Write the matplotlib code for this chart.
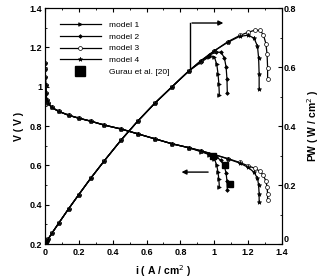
import numpy as np
import matplotlib
matplotlib.use("Agg")
import matplotlib.pyplot as plt
from matplotlib.ticker import MultipleLocator

plt.rcParams['font.family'] = ['Liberation Sans', 'DejaVu Sans']

# shared low-current part (all models overlap here)
i_common = [0, 0.001, 0.002, 0.004, 0.006, 0.01, 0.02, 0.04, 0.08, 0.14, 0.2,
            0.27, 0.35, 0.45, 0.55, 0.65, 0.75, 0.85]
v_common = [1.12, 1.09, 1.05, 1.01, 0.97, 0.935, 0.915, 0.895, 0.875, 0.855, 0.84,
            0.825, 0.805, 0.785, 0.76, 0.735, 0.71, 0.69]
p_common = [0, 0.001, 0.002, 0.004, 0.006, 0.009, 0.018, 0.036, 0.070, 0.120, 0.168,
            0.223, 0.282, 0.353, 0.418, 0.478, 0.533, 0.587]

# high-current tails
i_m1 = [0.92, 0.97, 1.0, 1.015, 1.022, 1.027, 1.03]
v_m1 = [0.67, 0.655, 0.635, 0.6, 0.565, 0.53, 0.49]
p_m1 = [0.616, 0.635, 0.635, 0.609, 0.577, 0.544, 0.505]

i_m2 = [0.92, 0.97, 1.01, 1.04, 1.06, 1.07, 1.075, 1.077]
v_m2 = [0.672, 0.66, 0.645, 0.625, 0.595, 0.56, 0.52, 0.475]
p_m2 = [0.618, 0.640, 0.651, 0.650, 0.631, 0.599, 0.559, 0.512]

i_m3 = [0.92, 1.0, 1.08, 1.15, 1.2, 1.24, 1.27, 1.29, 1.305, 1.312, 1.315, 1.315]
v_m3 = [0.675, 0.655, 0.635, 0.615, 0.598, 0.585, 0.57, 0.55, 0.52, 0.49, 0.455, 0.425]
p_m3 = [0.621, 0.655, 0.686, 0.707, 0.718, 0.725, 0.724, 0.710, 0.679, 0.643, 0.598, 0.559]

i_m4 = [0.92, 1.0, 1.08, 1.15, 1.2, 1.235, 1.255, 1.262, 1.265, 1.265]
v_m4 = [0.675, 0.655, 0.633, 0.612, 0.59, 0.565, 0.535, 0.5, 0.455, 0.415]
p_m4 = [0.621, 0.655, 0.684, 0.704, 0.708, 0.698, 0.671, 0.631, 0.576, 0.525]

# experimental points
i_exp = [0.99, 1.063, 1.09]
v_exp = [0.647, 0.60, 0.505]

models = [("model 1", i_m1, v_m1, p_m1, dict(marker=">", mfc="k", ms=2.6)),
          ("model 2", i_m2, v_m2, p_m2, dict(marker="D", mfc="k", ms=1.9)),
          ("model 3", i_m3, v_m3, p_m3, dict(marker="o", mfc="white", ms=2.8)),
          ("model 4", i_m4, v_m4, p_m4, dict(marker="*", mfc="k", ms=3.2))]

fig = plt.figure(figsize=(3.26, 2.78), dpi=100)
ax = fig.add_axes([0.138, 0.122, 0.727, 0.849])
ax2 = ax.twinx()

for name, xi, vi, pi, st in models:
    ax.plot(i_common + xi, v_common + vi, color="k", lw=0.9, mec="k", mew=0.5,
            label=name, **st)
    ax2.plot(i_common + xi, p_common + pi, color="k", lw=0.9, mec="k", mew=0.5, **st)

ax.plot(i_exp, v_exp, ls="none", marker="s", color="k", ms=3.8, label="Gurau et al. [20]")

# arrows
ax.plot([0.857, 0.857], [1.095, 1.324], color="k", lw=1.0)
ax.annotate("", xy=(1.07, 1.324), xytext=(0.852, 1.324),
            arrowprops=dict(arrowstyle="-|>", color="k", lw=1.0, mutation_scale=7))
ax.annotate("", xy=(0.79, 0.566), xytext=(0.98, 0.566),
            arrowprops=dict(arrowstyle="-|>", color="k", lw=1.0, mutation_scale=7))

ax.set_xlim(0, 1.4)
ax.set_ylim(0.2, 1.4)
ax2.set_ylim(0, 0.8)
ax.xaxis.set_minor_locator(MultipleLocator(0.1))
ax.yaxis.set_minor_locator(MultipleLocator(0.1))
ax2.yaxis.set_minor_locator(MultipleLocator(0.1))

ax.set_xticks([0, 0.2, 0.4, 0.6, 0.8, 1, 1.2, 1.4])
ax.set_xticklabels(["0", "0.2", "0.4", "0.6", "0.8", "1", "1.2", "1.4"])
ax.set_yticks([0.2, 0.4, 0.6, 0.8, 1, 1.2, 1.4])
ax.set_yticklabels(["0.2", "0.4", "0.6", "0.8", "1", "1.2", "1.4"])
ax2.set_yticks([0, 0.2, 0.4, 0.6, 0.8])
ax2.set_yticklabels(["0", "0.2", "0.4", "0.6", "0.8"])

ax.tick_params(which="both", direction="in", top=True, labelsize=6.5)
ax.tick_params(axis="x", pad=3)
ax.tick_params(axis="y", pad=2)
ax.tick_params(which="major", length=3)
ax.tick_params(which="minor", length=1.5)
ax2.tick_params(which="both", direction="in", labelsize=6.5, pad=1.5)
ax2.tick_params(which="major", length=3)
ax2.tick_params(which="minor", length=1.5)
for lab in ax.get_xticklabels() + ax.get_yticklabels() + ax2.get_yticklabels():
    lab.set_fontweight("bold")
# lift the right-axis "0" a little so it clears the "1.4" below it
ax2.get_yticklabels()[0].set_verticalalignment("bottom")

ax.set_xlabel("i ( A / cm$^2$ )", fontsize=7.5, fontweight="bold", labelpad=4)
ax.set_ylabel("V ( V )", fontsize=7.5, fontweight="bold", labelpad=4)
ax2.set_ylabel("PW ( W / cm$^2$ )", fontsize=7.5, fontweight="bold", labelpad=6)

leg = ax.legend(loc="upper left", bbox_to_anchor=(0.03, 0.975), frameon=False,
                fontsize=6, handlelength=5.0, handletextpad=0.9, labelspacing=0.45)
leg.legend_handles[-1].set_markersize(7)

plt.savefig("out.png", dpi=100)
